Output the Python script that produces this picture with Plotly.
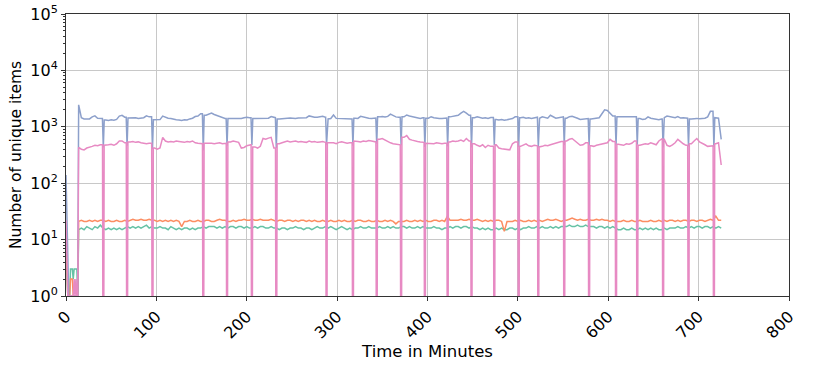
import plotly.graph_objects as go

# ---------------- data ----------------
# start-up phase, one value per minute (minutes 0..13)
start_minutes = [0, 1, 2, 3, 4, 5, 6, 7, 8, 9, 10, 11, 12, 13]
start_green = [6, 2, 1, 1, 1, 3, 3, 3, 2, 3, 3, 3, 3, 1]
start_orange = [11, 3, 1, 1, 1, 2, 2, 2, 1, 1, 1, 1, 1, 1]
start_blue = [140, 25, 2, 1, 1, 1, 1, 1, 1, 1, 1, 1, 1, 1]
start_pink = [22, 6, 1, 1, 1, 1, 1, 1, 1, 2, 1, 2, 1, 1]

# main phase: samples every 3 minutes from minute 14 to minute 725 (10 per row)
sample_start = 14
sample_step = 3

blue = [
    2450, 1450, 1380, 1400, 1380, 1500, 1560, 1420, 1400, 1400,
    1320, 1300, 1330, 1310, 1350, 1550, 1600, 1480, 1450, 1430,
    1420, 1450, 1400, 1440, 1450, 1560, 1500, 1450, 1330, 1320,
    1340, 1550, 1480, 1420, 1400, 1350, 1330, 1320, 1300, 1330,
    1320, 1380, 1420, 1520, 1550, 1700, 1700, 1600, 1700, 1750,
    1650, 1580, 1500, 1420, 1400, 1420, 1400, 1410, 1390, 1420,
    1400, 1450, 1480, 1450, 1420, 1400, 1410, 1390, 1400, 1410,
    1420, 1520, 1450, 1400, 1380, 1400, 1420, 1410, 1430, 1420,
    1400, 1430, 1440, 1420, 1450, 1560, 1500, 1480, 1470, 1500,
    1530, 1480, 1380, 1400, 1620, 1410, 1400, 1390, 1410, 1400,
    1380, 1400, 1420, 1410, 1530, 1480, 1430, 1420, 1410, 1430,
    1450, 1500, 1520, 1490, 1530, 1680, 1560, 1500, 1480, 1480,
    1500, 1620, 1560, 1520, 1480, 1420, 1410, 1450, 1450, 1420,
    1510, 1450, 1420, 1400, 1410, 1430, 1450, 1500, 1520, 1560,
    1600, 1750, 1870, 1750, 1600, 1550, 1450, 1500, 1480, 1420,
    1450, 1410, 1460, 1400, 1350, 1320, 1340, 1310, 1330, 1350,
    1400, 1500, 1480, 1450, 1480, 1420, 1440, 1410, 1430, 1480,
    1420, 1500, 1450, 1420, 1600, 1480, 1420, 1450, 1500, 1480,
    1420, 1510, 1530, 1450, 1420, 1350, 1380, 1400, 1400, 1380,
    1400, 1420, 1450, 1700, 2000, 1950, 1700, 1550, 1500, 1500,
    1520, 1480, 1500, 1510, 1490, 1500, 1450, 1400, 1350, 1370,
    1500, 1420, 1380, 1360, 1340, 1380, 1450, 1550, 1500, 1480,
    1450, 1520, 1430, 1440, 1420, 1400, 1380, 1400, 1410, 1390,
    1400, 1420, 1500, 1880, 1700, 1450, 1420, 600,
]

pink = [
    430, 400, 390, 420, 430, 450, 470, 460, 480, 480,
    470, 480, 490, 470, 500, 560, 560, 520, 500, 540,
    550, 530, 540, 520, 510, 500, 510, 500, 420, 400,
    420, 650, 560, 540, 550, 540, 560, 550, 540, 530,
    550, 540, 560, 520, 510, 500, 500, 510, 520, 510,
    500, 510, 520, 500, 510, 500, 540, 560, 550, 530,
    420, 430, 460, 480, 470, 440, 420, 450, 620, 600,
    630, 650, 420, 410, 500, 520, 540, 560, 540, 550,
    560, 540, 550, 540, 530, 560, 540, 550, 530, 540,
    550, 530, 520, 510, 520, 500, 530, 540, 520, 510,
    520, 500, 560, 550, 540, 560, 550, 570, 560, 540,
    560, 600, 620, 580, 550, 520, 500, 490, 480, 480,
    650, 700, 600, 580, 560, 550, 540, 530, 520, 510,
    510, 500, 520, 510, 500, 510, 500, 540, 560, 550,
    560, 580, 550, 620, 560, 520, 500, 470, 450, 480,
    430, 470, 450, 460, 480, 420, 410, 400, 400, 390,
    500, 540, 520, 450, 480, 500, 460, 450, 470, 460,
    440, 450, 470, 460, 480, 500, 520, 540, 550, 540,
    560, 600, 620, 560, 500, 470, 480, 520, 500, 460,
    450, 470, 480, 490, 500, 520, 600, 550, 520, 490,
    480, 470, 500, 490, 510, 560, 540, 470, 480, 500,
    490, 520, 500, 480, 560, 620, 600, 470, 450, 480,
    520, 600, 540, 500, 470, 480, 500, 560, 620, 540,
    500, 480, 450, 460, 470, 500, 520, 210,
]

orange = [
    21, 22, 21, 21, 22, 21, 22, 21, 22, 22,
    21, 22, 21, 21, 22, 21, 21, 22, 21, 22,
    23, 22, 22, 23, 22, 22, 23, 22, 22, 21,
    22, 21, 22, 21, 22, 21, 22, 21, 17, 21,
    21, 22, 21, 21, 22, 21, 21, 22, 22, 21,
    21, 22, 23, 22, 22, 21, 21, 22, 21, 22,
    22, 23, 22, 22, 23, 22, 22, 23, 22, 22,
    22, 23, 22, 21, 22, 22, 21, 22, 22, 21,
    22, 21, 22, 22, 21, 22, 21, 22, 21, 21,
    22, 21, 21, 22, 21, 21, 22, 21, 22, 21,
    21, 22, 21, 22, 22, 21, 21, 22, 21, 21,
    22, 21, 21, 22, 21, 22, 21, 19, 21, 21,
    21, 22, 21, 21, 22, 21, 22, 21, 22, 21,
    21, 22, 22, 21, 22, 21, 26, 22, 22, 22,
    22, 23, 22, 22, 23, 22, 22, 23, 22, 21,
    22, 21, 22, 21, 22, 22, 21, 14, 21, 21,
    21, 22, 21, 22, 21, 21, 22, 21, 22, 21,
    22, 21, 22, 23, 22, 22, 23, 22, 21, 22,
    22, 23, 24, 23, 22, 23, 22, 22, 23, 22,
    22, 23, 22, 23, 22, 22, 21, 22, 21, 21,
    21, 22, 21, 21, 22, 21, 21, 22, 21, 21,
    21, 22, 21, 21, 22, 21, 22, 21, 22, 22,
    21, 22, 21, 22, 22, 21, 22, 22, 21, 22,
    22, 21, 22, 23, 22, 26, 22, 22,
]

green = [
    15, 16, 15, 17, 16, 15, 17, 16, 18, 16,
    15, 16, 15, 16, 15, 16, 15, 16, 17, 16,
    17, 16, 17, 16, 17, 18, 16, 17, 16, 16,
    17, 16, 16, 15, 17, 16, 15, 16, 15, 16,
    16, 15, 16, 15, 16, 16, 17, 16, 17, 17,
    17, 16, 17, 16, 17, 16, 17, 17, 16, 17,
    17, 16, 17, 16, 16, 17, 16, 17, 17, 16,
    16, 17, 16, 16, 15, 16, 16, 15, 16, 16,
    17, 16, 16, 15, 16, 16, 15, 16, 17, 16,
    16, 17, 16, 17, 16, 15, 16, 17, 16, 15,
    16, 15, 16, 16, 17, 16, 16, 17, 16, 16,
    16, 17, 16, 16, 17, 16, 17, 16, 16, 17,
    17, 16, 17, 16, 16, 17, 16, 17, 16, 16,
    16, 17, 16, 16, 15, 16, 16, 17, 16, 17,
    17, 16, 17, 17, 16, 17, 16, 16, 15, 16,
    15, 16, 15, 15, 16, 15, 16, 15, 15, 16,
    16, 15, 16, 15, 16, 16, 17, 16, 16, 17,
    16, 17, 16, 16, 17, 16, 17, 16, 17, 17,
    17, 18, 17, 17, 18, 17, 17, 18, 17, 17,
    17, 16, 17, 17, 16, 17, 16, 17, 16, 15,
    15, 16, 15, 15, 16, 15, 15, 16, 15, 16,
    15, 16, 15, 16, 15, 15, 16, 15, 16, 16,
    16, 17, 16, 16, 17, 16, 17, 16, 17, 17,
    16, 17, 17, 16, 17, 16, 17, 16,
]

# periodic resets: minute of each drop, and the blue minimum at each drop
dip_minutes = [41.3, 67.6, 95.7, 151.9, 178.2, 205.7, 232.7, 288.3, 317.5, 343.8,
               370.8, 397.1, 422.3, 448.7, 473.9, 500.9, 522.6, 551.3, 578.8, 608.6,
               632.1, 660.7, 688.8, 716.9]
blue_dip = [430, 460, 400, 380, 460, 470, 420, 480, 460, 500,
            470, 440, 450, 430, 470, 440, 430, 470, 460, 470,
            480, 430, 450, 440]
pink_dip_value = 0.3      # pink drops to zero (below the log axis)

y_tick_vals = [1, 10, 100, 1000, 10000, 100000]
y_tick_text = ["10<sup>0</sup>", "10<sup>1</sup>", "10<sup>2</sup>",
               "10<sup>3</sup>", "10<sup>4</sup>", "10<sup>5</sup>"]

# ---------------- build series ----------------
minutes = [sample_start + sample_step * i for i in range(len(blue))]


def neighbours(vals, d):
    """sample values just before and just after a drop"""
    before = [v for m, v in zip(minutes, vals) if m < d - 1.0]
    after = [v for m, v in zip(minutes, vals) if m > d + 1.0]
    return before[-1], after[0]


def series(start_vals, vals, dip_depths=None, flat=False):
    pts = list(zip(start_minutes, start_vals))
    if dip_depths is None:
        pts += list(zip(minutes, vals))
    else:
        pts += [(m, v) for m, v in zip(minutes, vals)
                if not any(abs(m - d) < 1.0 for d in dip_minutes)]
        for d, depth in zip(dip_minutes, dip_depths):
            b, a = neighbours(vals, d)
            if flat:
                pts += [(d - 0.9, b), (d - 0.5, depth), (d + 0.5, depth), (d + 0.9, a)]
            else:
                pts += [(d - 1.0, b), (d, depth), (d + 1.0, a)]
    pts.sort(key=lambda p: p[0])
    return [p[0] for p in pts], [p[1] for p in pts]


gx, gy = series(start_green, green)
ox, oy = series(start_orange, orange)
bx, by = series(start_blue, blue, blue_dip)
px_, py_ = series(start_pink, pink, [pink_dip_value] * len(dip_minutes), flat=True)

colors = {"green": "#66c2a5", "orange": "#fc8d62", "blue": "#8da0cb", "pink": "#e78ac3"}

fig = go.Figure()
for x, y, c in [(gx, gy, colors["green"]), (ox, oy, colors["orange"]),
                (bx, by, colors["blue"]), (px_, py_, colors["pink"])]:
    fig.add_trace(go.Scatter(x=x, y=y, mode="lines",
                             line=dict(color=c, width=1.5), showlegend=False,
                             hoverinfo="skip"))

font = "DejaVu Sans, Arial, sans-serif"
fig.update_layout(
    width=814, height=365,
    margin=dict(l=66, r=25, t=14, b=69),
    paper_bgcolor="white", plot_bgcolor="white",
    font=dict(family=font, size=15, color="black"),
)
fig.update_xaxes(
    range=[0, 800], dtick=100, tick0=0, automargin=False,
    showgrid=True, gridcolor="#c8c8c8", gridwidth=1,
    showline=True, linecolor="#333333", linewidth=1, mirror=True,
    ticks="outside", ticklen=4, tickcolor="#333333",
    tickangle=-45, tickfont=dict(size=16),
    zeroline=False,
    title=dict(text="Time in Minutes", font=dict(size=16.5), standoff=4),
)
fig.update_yaxes(
    type="log", range=[0, 5], automargin=False,
    tickmode="array", tickvals=y_tick_vals, ticktext=y_tick_text,
    showgrid=True, gridcolor="#c8c8c8", gridwidth=1,
    showline=True, linecolor="#333333", linewidth=1, mirror=True,
    ticks="outside", ticklen=4, tickcolor="#333333",
    tickfont=dict(size=16),
    minor=dict(ticks="outside", ticklen=2, tickcolor="#333333", dtick="D1", showgrid=False),
    zeroline=False,
    title=dict(text="Number of unique items", font=dict(size=15.5), standoff=4),
)

fig.write_html("out.html")
